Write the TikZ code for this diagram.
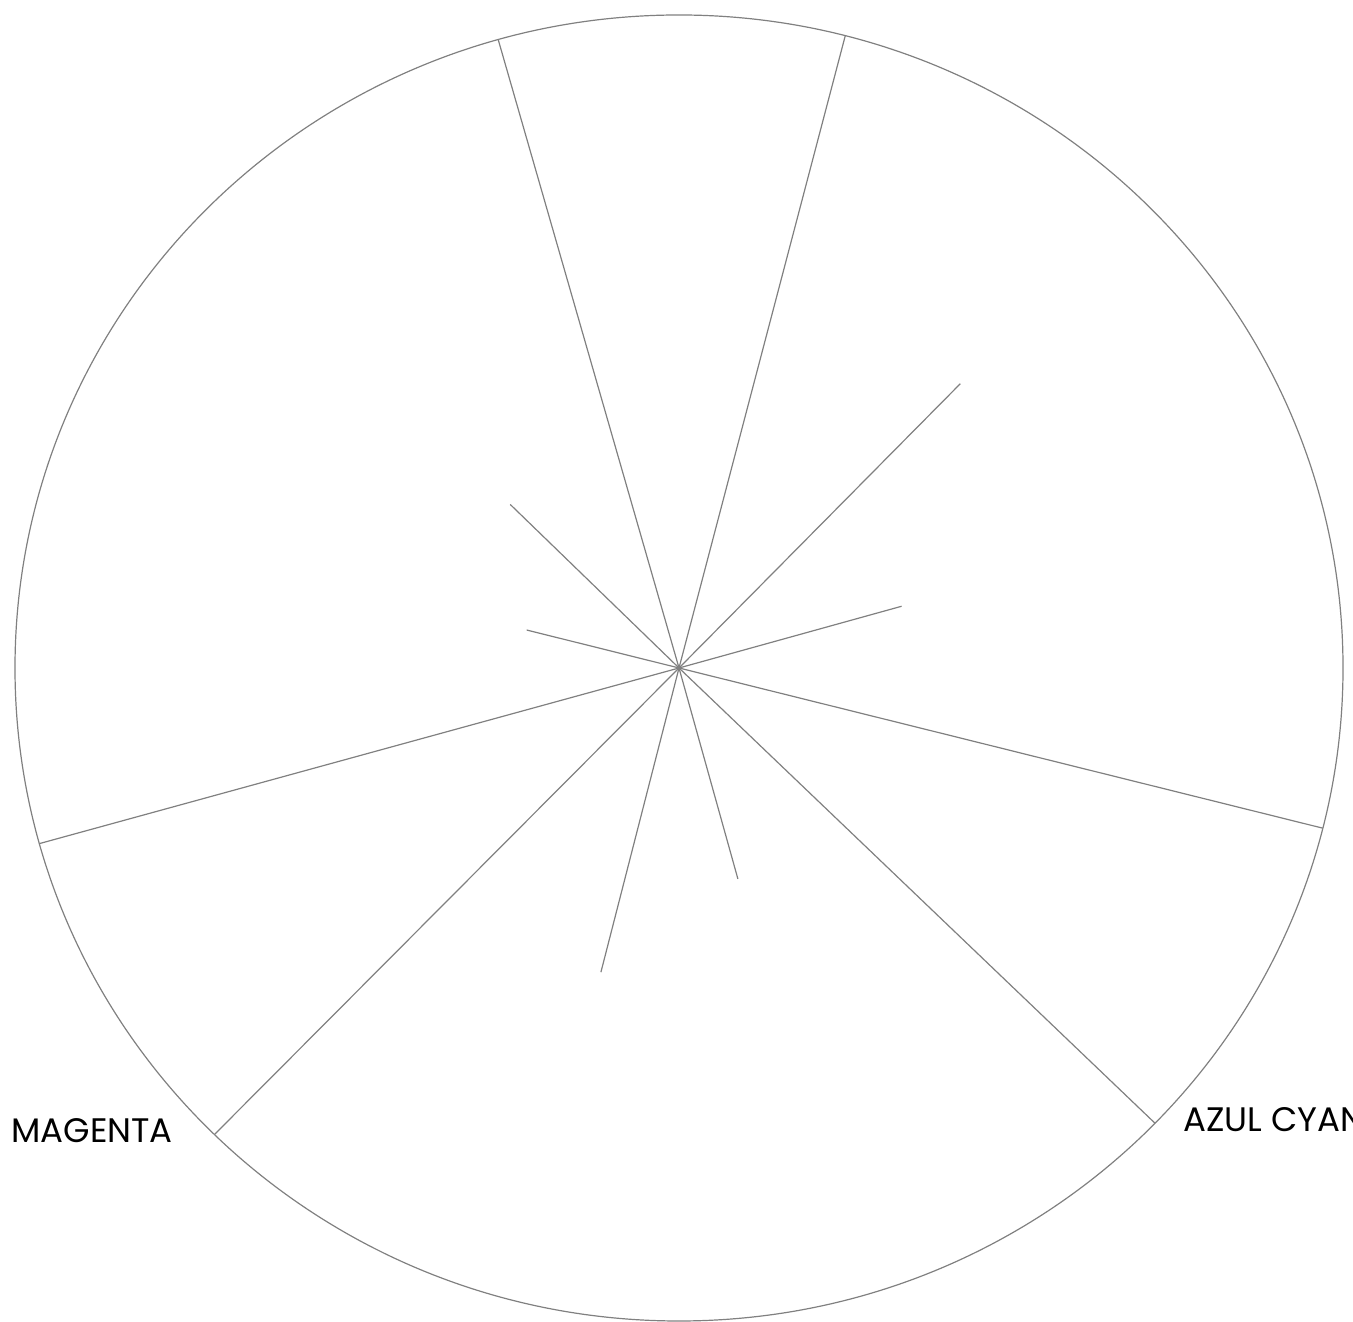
\documentclass[tikz,border=0pt]{standalone}
\usepackage{fontspec}
\setmainfont{Poppins}
\usepackage{tikz}
\usetikzlibrary{calc}

\begin{document}
\begin{tikzpicture}[x=0.5pt,y=0.5pt,
  spoke/.style={line width=0.6pt,black!50},
  colorname/.style={anchor=base west,inner sep=0pt,font=\fontsize{17}{20}\selectfont}]

\useasboundingbox (0,0) rectangle (1353,1321);

\coordinate (hub) at (679,653);

\draw[spoke] (hub) ellipse [x radius=664, y radius=653];

\draw[spoke] (hub) to ($(hub)+(105.8:664 and 653)$);
\draw[spoke] (hub) to ($(hub)+(75.5:664 and 653)$);
\draw[spoke] (hub) to ($(hub)+(-14.2:664 and 653)$);
\draw[spoke] (hub) to ($(hub)+(-44.2:664 and 653)$);
\draw[spoke] (hub) to ($(hub)+(-134.4:664 and 653)$);
\draw[spoke] (hub) to ($(hub)+(-164.4:664 and 653)$);

\draw[spoke] (hub) to ($(hub)+(45.3:400)$);
\draw[spoke] (hub) to ($(hub)+(15.5:231)$);
\draw[spoke] (hub) to ($(hub)+(135.9:235)$);
\draw[spoke] (hub) to ($(hub)+(166:157)$);
\draw[spoke] (hub) to ($(hub)+(-74.4:219)$);
\draw[spoke] (hub) to ($(hub)+(-104.4:314)$);

\node[colorname] (magenta) at (11,178) {MAGENTA};
\node[colorname] (cyan) at (1183,189) {AZUL CYAN};

\end{tikzpicture}
\end{document}
